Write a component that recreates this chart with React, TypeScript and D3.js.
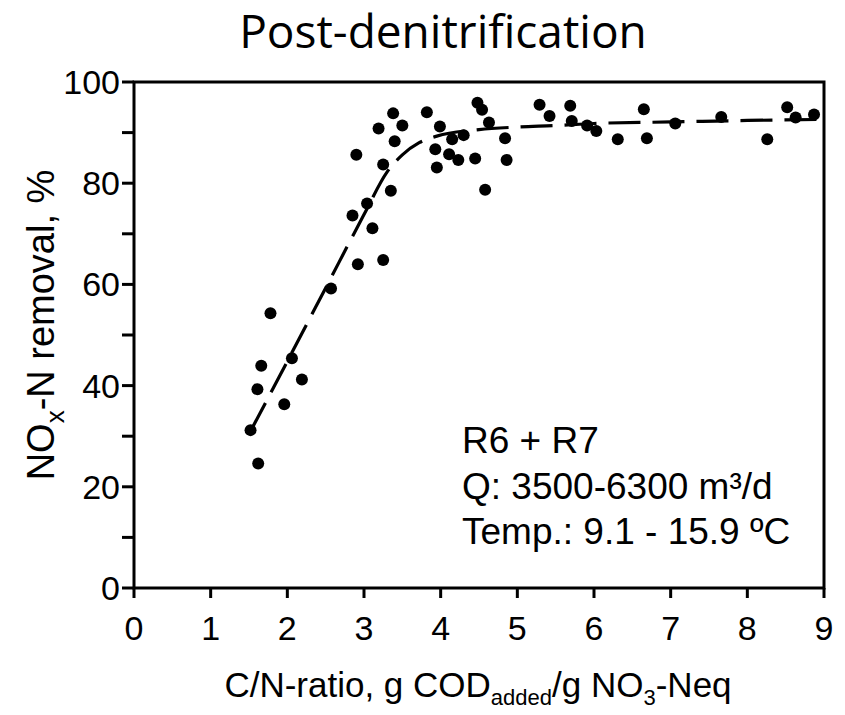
import React from "react";
import * as d3 from "d3";

// Observations: C/N ratio vs NOx-N removal (%)
const obsX = [1.52, 1.62, 1.61, 1.66, 1.78, 1.96, 2.06, 2.19, 2.57, 2.85, 2.92, 3.04, 3.11, 2.90, 3.25, 3.25, 3.35, 3.19, 3.38, 3.50, 3.40, 3.82, 3.99, 4.15, 4.30, 3.93, 4.11, 4.23, 3.95, 4.45, 4.48, 4.54, 4.63, 4.58, 4.84, 4.86, 5.29, 5.42, 5.69, 5.71, 5.91, 6.03, 6.31, 6.65, 6.69, 7.06, 7.66, 8.26, 8.52, 8.63, 8.87];
const obsY = [31.2, 24.6, 39.3, 43.9, 54.3, 36.3, 45.4, 41.2, 59.2, 73.6, 64.0, 76.0, 71.1, 85.6, 64.8, 83.7, 78.5, 90.8, 93.8, 91.4, 88.3, 94.0, 91.2, 88.7, 89.5, 86.7, 85.7, 84.6, 83.1, 84.9, 95.9, 94.5, 92.0, 78.7, 88.9, 84.6, 95.5, 93.3, 95.3, 92.3, 91.4, 90.3, 88.7, 94.6, 88.9, 91.8, 93.1, 88.7, 95.0, 93.0, 93.6];

// Fitted dashed curve
const fitX = [1.52, 2.0, 2.5, 3.0, 3.3, 3.5, 3.72, 3.95, 4.5, 5.0, 5.5, 6.0, 7.0, 8.0, 8.95];
const fitY = [31, 44.8, 59.3, 73.8, 82.2, 85.6, 88.0, 89.3, 90.6, 91.1, 91.4, 91.8, 92.1, 92.4, 92.6];

const xTicks = [0, 1, 2, 3, 4, 5, 6, 7, 8, 9];
const yMajorTicks = [0, 20, 40, 60, 80, 100];
const yMinorTicks = [10, 30, 50, 70, 90];

const titleText = "Post-denitrification";
const legendLines = ["R6 + R7", "Q: 3500-6300 m³/d", "Temp.: 9.1 - 15.9 ºC"];

export default function App() {
  const W = 845;
  const H = 715;
  const x = d3.scaleLinear().domain([0, 9]).range([134, 824]);
  const y = d3.scaleLinear().domain([0, 100]).range([588, 82]);
  const font = "'Liberation Sans', Arial, Helvetica, sans-serif";

  const fitPts: [number, number][] = fitX.map((v, i) => [v, fitY[i]]);
  const line = d3
    .line<[number, number]>()
    .x((d) => x(d[0]))
    .y((d) => y(d[1]))
    .curve(d3.curveMonotoneX);

  const x0 = x(0);
  const x1 = x(9);
  const y0 = y(0);
  const y1 = y(100);

  return (
    <svg
      width={W}
      height={H}
      style={{ position: "absolute", left: 0, top: 0, background: "#fff" }}
    >
      <rect x={0} y={0} width={W} height={H} fill="#fff" />
      <text
        x={443}
        y={48}
        textAnchor="middle"
        fontFamily="'Open Sans', 'Noto Sans', sans-serif"
        fontSize={46}
        fill="#000"
      >
        {titleText}
      </text>

      {/* frame */}
      <rect
        x={x0}
        y={y1}
        width={x1 - x0}
        height={y0 - y1}
        fill="none"
        stroke="#000"
        strokeWidth={3}
      />

      {/* x ticks */}
      {xTicks.map((t) => (
        <g key={"xt" + t}>
          <line x1={x(t)} x2={x(t)} y1={y0} y2={y0 + 10} stroke="#000" strokeWidth={3} />
          <text
            x={x(t)}
            y={y0 + 52}
            textAnchor="middle"
            fontFamily={font}
            fontSize={34}
            fill="#000"
          >
            {t}
          </text>
        </g>
      ))}

      {/* y ticks */}
      {yMajorTicks.map((t) => (
        <g key={"ym" + t}>
          <line x1={x0 - 12} x2={x0} y1={y(t)} y2={y(t)} stroke="#000" strokeWidth={3} />
          <text
            x={x0 - 14}
            y={y(t) + 12}
            textAnchor="end"
            fontFamily={font}
            fontSize={34}
            fill="#000"
          >
            {t}
          </text>
        </g>
      ))}
      {yMinorTicks.map((t) => (
        <line key={"yn" + t} x1={x0 - 12} x2={x0} y1={y(t)} y2={y(t)} stroke="#000" strokeWidth={3} />
      ))}

      {/* axis labels */}
      <text
        x={478}
        y={697}
        textAnchor="middle"
        fontFamily={font}
        fontSize={35}
        fill="#000"
      >
        C/N-ratio, g COD
        <tspan fontSize={22} dy={8}>added</tspan>
        <tspan dy={-8}>/g NO</tspan>
        <tspan fontSize={22} dy={8}>3</tspan>
        <tspan dy={-8}>-Neq</tspan>
      </text>
      <text
        transform={`translate(54, 325) rotate(-90)`}
        textAnchor="middle"
        fontFamily={font}
        fontSize={38}
        fill="#000"
      >
        NO
        <tspan fontSize={26} dy={10}>x</tspan>
        <tspan dy={-10}>-N removal, %</tspan>
      </text>

      {/* fit line */}
      <path
        d={line(fitPts) || ""}
        fill="none"
        stroke="#000"
        strokeWidth={3.2}
        strokeDasharray="32 12"
      />

      {/* points */}
      {obsX.map((v, i) => (
        <circle key={"p" + i} cx={x(v)} cy={y(obsY[i])} r={6} fill="#000" />
      ))}

      {/* legend */}
      {legendLines.map((s, i) => (
        <text
          key={"lg" + i}
          x={462}
          y={453 + i * 45.5}
          fontFamily={font}
          fontSize={37}
          fill="#000"
        >
          {s}
        </text>
      ))}
    </svg>
  );
}
